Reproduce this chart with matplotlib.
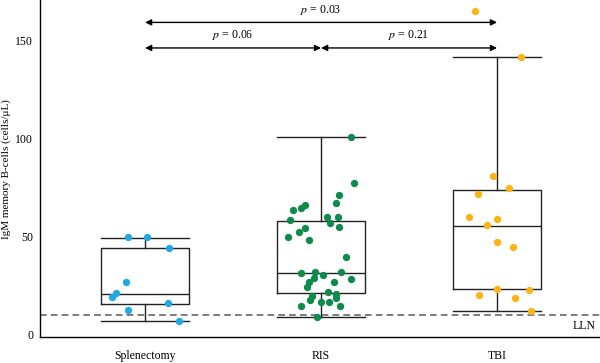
import matplotlib
matplotlib.use("Agg")
import matplotlib.pyplot as plt

# Data
groups = ["Splenectomy", "RIS", "TBI"]
colors = ["#1fa8e4", "#0e8a4b", "#fab515"]

splen_vals = [49.7, 50.0, 44.4, 26.8, 21.5, 19.5, 16.3, 12.6, 7.3]
splen_jit = [-0.098, 0.010, 0.136, -0.108, -0.165, -0.189, 0.132, -0.095, 0.191]

ris_vals = [100.5, 77.2, 71.4, 67.3, 66.3, 64.4, 63.6, 58.6, 60.2, 59.9, 57.1, 54.8,
            54.3, 52.2, 49.7, 48.2, 39.8, 31.4, 31.9, 30.7, 31.9, 28.8, 28.6, 27.0,
            26.8, 24.6, 21.7, 20.9, 19.8, 17.8, 18.7, 16.8, 16.8, 14.9, 14.8, 9.2]
ris_jit = [0.169, 0.186, 0.101, 0.085, -0.093, -0.114, -0.161, -0.174, 0.034, 0.095, 0.053, 0.102,
           -0.091, -0.123, -0.188, -0.066, 0.142, -0.112, -0.032, 0.011, 0.115, -0.040, 0.169, -0.070,
           0.072, -0.080, 0.038, 0.087, -0.051, -0.061, 0.085, -0.002, 0.045, -0.112, 0.108, -0.024]

tbi_vals = [164.8, 141.2, 80.9, 74.9, 71.7, 60.2, 59.0, 55.8, 47.3, 44.9, 23.2, 22.9, 20.2, 18.8, 12.1]
tbi_jit = [-0.123, 0.138, -0.021, 0.068, -0.110, -0.157, -0.002, -0.059, 0.0, 0.093, 0.0, 0.182, -0.102, 0.104, 0.195]

# box statistics as drawn
q1 = [15.8, 21.5, 23.2]
med = [20.9, 31.7, 55.3]
q3 = [44.4, 58.1, 73.6]
whislo = [7.1, 9.0, 11.9]
whishi = [49.5, 100.5, 141.2]

lln = 10
comparisons = [(0, 2, 159, "0.03"), (0, 1, 146, "0.06"), (1, 2, 146, "0.21")]

plt.rcParams["font.family"] = ["Liberation Serif", "DejaVu Serif"]

fig = plt.figure(figsize=(6, 3.63), dpi=100)
ax = fig.add_axes([0.0667, 0.071, 0.9333, 0.929])

stats = []
for i in range(3):
    stats.append({"q1": q1[i], "med": med[i], "q3": q3[i],
                  "whislo": whislo[i], "whishi": whishi[i], "fliers": []})
lp = dict(color="#222222", linewidth=1.0)
ax.bxp(stats, positions=range(3), widths=0.5, capwidths=0.5, showfliers=False,
       boxprops=lp, medianprops=lp, whiskerprops=lp, capprops=lp)

all_vals = [splen_vals, ris_vals, tbi_vals]
all_jit = [splen_jit, ris_jit, tbi_jit]
for i in range(3):
    xs = [i + j for j in all_jit[i]]
    ax.scatter(xs, all_vals[i], s=28, color=colors[i], zorder=3, linewidths=0)

ax.axhline(lln, color="#666666", linestyle=(0, (4, 2.5)), linewidth=1.2, zorder=1)
ax.text(2.56, 4.7, "LLN", ha="right", va="center", fontsize=8.5)

for a, b, y, p in comparisons:
    ax.annotate("", xy=(b, y), xytext=(a, y),
                arrowprops=dict(arrowstyle="<|-|>", color="black", lw=1.0,
                                mutation_scale=9, shrinkA=0, shrinkB=0))
    ax.text((a + b) / 2, y + 6.5, "$p$ = " + p, ha="center", va="center",
            fontsize=8.5, math_fontfamily="stix")

ax.set_xlim(-0.597, 2.585)
ax.set_ylim(-1.2, 170.4)
ax.set_yticks([0, 50, 100, 150])
ax.set_xticks(range(3))
ax.set_xticklabels(groups)
ax.tick_params(axis="both", length=0, labelsize=8.5)
ax.tick_params(axis="x", pad=9)
ax.tick_params(axis="y", pad=5)
ax.set_ylabel("IgM memory B-cells (cells/μL)", fontsize=8)
ax.yaxis.set_label_coords(-0.052, 0.5)

for s in ["top", "right"]:
    ax.spines[s].set_visible(False)
for s in ["left", "bottom"]:
    ax.spines[s].set_linewidth(1.0)

fig.savefig("out.png", dpi=100)
